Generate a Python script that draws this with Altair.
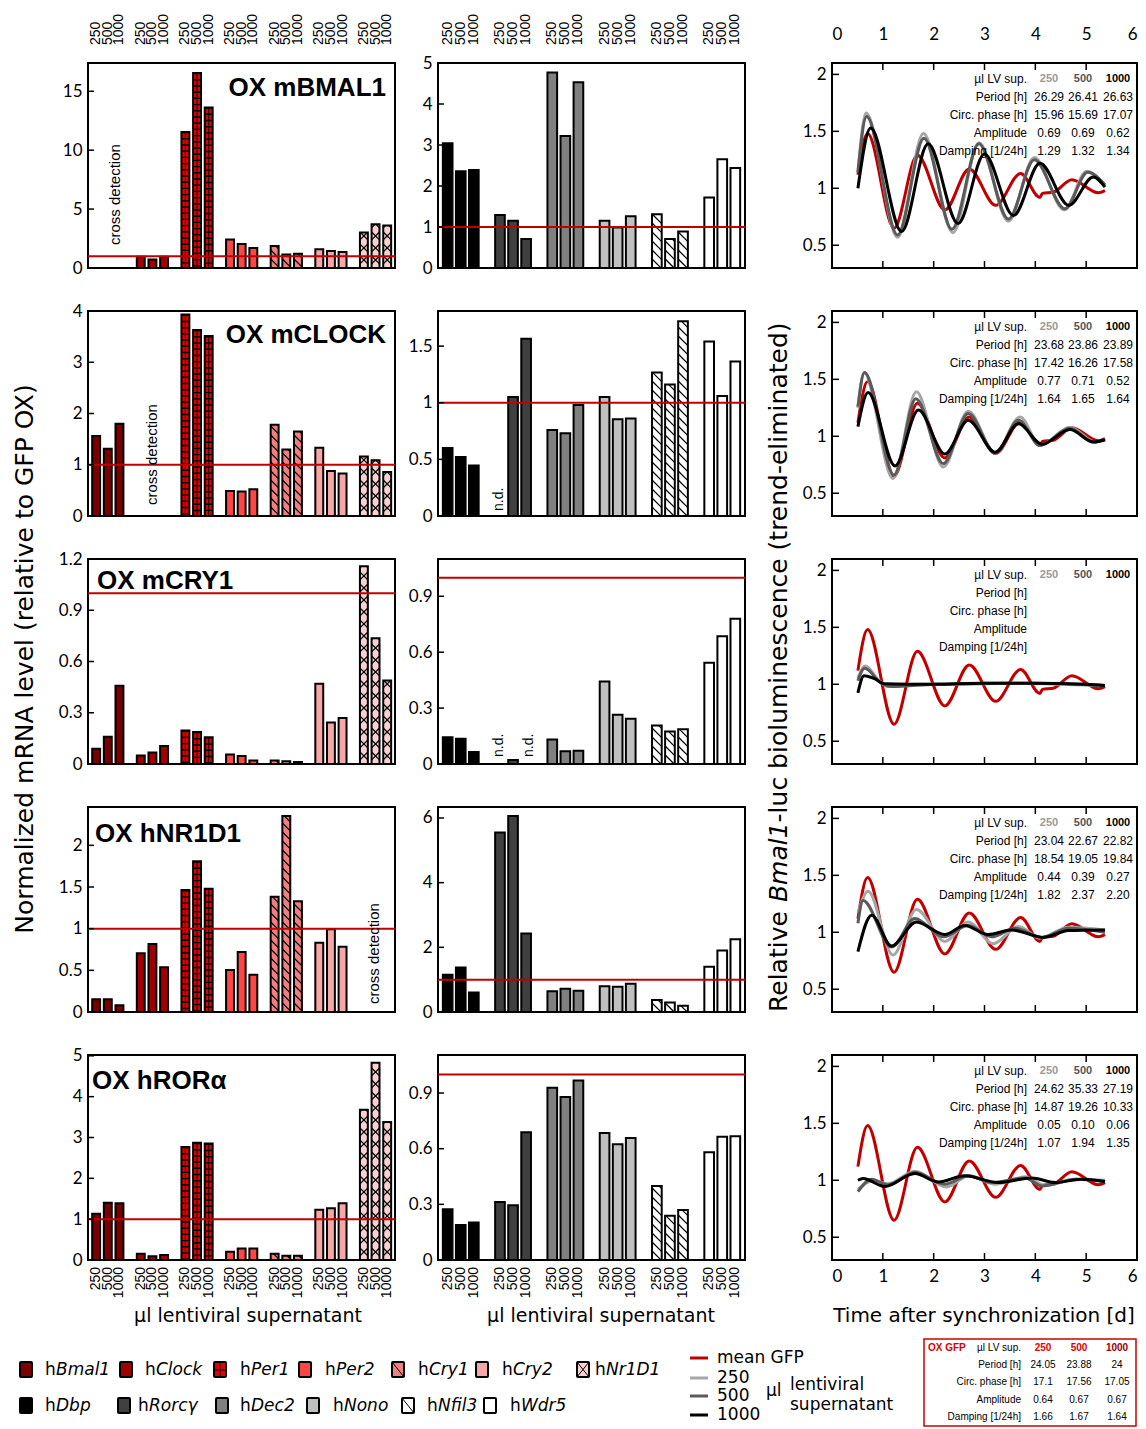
import altair as alt
import pandas as pd

# ---------------- data ----------------
DOSES = ["250", "500", "1000"]
GENES_L = ["hBmal1", "hClock", "hPer1", "hPer2", "hCry1", "hCry2", "hNr1d1"]
GENES_M = ["hDbp", "hRorc", "hDec2", "hNono", "hNfil3", "hWdr5"]
COLORS_L = ["#7a0000", "#a00000", "#e00000", "#ff4545", "#f08080", "#f6a6a6", "#f9cfcf"]
COLORS_M = ["#000000", "#404040", "#808080", "#c0c0c0", "#ffffff", "#ffffff"]
PATTERN_L = ["", "", "brick", "", "back", "", "cross"]
PATTERN_M = ["", "", "", "", "back", ""]
PANEL_TITLES = ["OX mBMAL1", "OX mCLOCK", "OX mCRY1", "OX hNR1D1", "OX hRORα"]

N = None
LEFT_VALUES = [
    [[N, N, N], [0.96, 0.73, 0.96], [11.55, 16.56, 13.63], [2.42, 2.03, 1.69], [1.86, 1.15, 1.21], [1.60, 1.44, 1.35], [3.01, 3.72, 3.60]],
    [[1.56, 1.31, 1.80], [N, N, N], [3.93, 3.63, 3.51], [0.49, 0.48, 0.52], [1.78, 1.30, 1.65], [1.33, 0.88, 0.83], [1.16, 1.09, 0.86]],
    [[0.09, 0.16, 0.458], [0.05, 0.067, 0.106], [0.196, 0.188, 0.157], [0.055, 0.047, 0.02], [0.02, 0.016, 0.012], [0.47, 0.243, 0.27], [1.158, 0.736, 0.489]],
    [[0.152, 0.152, 0.08], [0.704, 0.816, 0.536], [1.464, 1.808, 1.48], [0.504, 0.72, 0.448], [1.384, 2.352, 1.328], [0.832, 0.992, 0.784], [N, N, N]],
    [[1.13, 1.40, 1.39], [0.15, 0.09, 0.12], [2.77, 2.87, 2.85], [0.20, 0.28, 0.28], [0.15, 0.105, 0.105], [1.23, 1.27, 1.39], [3.68, 4.83, 3.38]],
]
MID_VALUES = [
    [[3.04, 2.36, 2.39], [1.29, 1.15, 0.71], [4.77, 3.22, 4.53], [1.15, 0.99, 1.26], [1.31, 0.71, 0.89], [1.72, 2.65, 2.44]],
    [[0.60, 0.52, 0.445], [N, 1.05, 1.565], [0.76, 0.73, 0.98], [1.05, 0.855, 0.86], [1.266, 1.16, 1.72], [1.54, 1.06, 1.365]],
    [[0.143, 0.136, 0.064], [N, 0.021, N], [0.132, 0.068, 0.071], [0.443, 0.264, 0.243], [0.207, 0.175, 0.186], [0.543, 0.686, 0.779]],
    [[1.155, 1.38, 0.60], [5.55, 6.06, 2.43], [0.64, 0.72, 0.66], [0.80, 0.78, 0.87], [0.37, 0.29, 0.19], [1.40, 1.90, 2.25]],
    [[0.274, 0.188, 0.202], [0.313, 0.295, 0.689], [0.928, 0.878, 0.968], [0.685, 0.624, 0.657], [0.399, 0.238, 0.27], [0.581, 0.664, 0.667]],
]
LEFT_YMAX = [17.4, 4.0, 1.2, 2.46, 5.02]
MID_YMAX = [5.0, 1.81, 1.1, 6.34, 1.105]
LEFT_TICKS = [[0, 5, 10, 15], [0, 1, 2, 3, 4], [0, 0.3, 0.6, 0.9, 1.2], [0, 0.5, 1, 1.5, 2], [0, 1, 2, 3, 4, 5]]
MID_TICKS = [[0, 1, 2, 3, 4, 5], [0, 0.5, 1, 1.5], [0, 0.3, 0.6, 0.9], [0, 2, 4, 6], [0, 0.3, 0.6, 0.9]]

# bioluminescence traces (day, relative signal), read at extrema
GFP = [(0.51, 1.12), (0.70, 1.48), (1.22, 0.65), (1.68, 1.29), (2.22, 0.81), (2.70, 1.17), (3.22, 0.85),
       (3.71, 1.13), (4.09, 0.92), (4.14, 0.955), (4.35, 0.965), (4.72, 1.075), (5.24, 0.96), (5.37, 0.98)]
P1_250 = [(0.51, 1.14), (0.67, 1.66), (1.29, 0.57), (1.80, 1.48), (2.38, 0.61), (2.89, 1.40), (3.47, 0.71),
          (3.98, 1.27), (4.57, 0.81), (5.01, 1.15), (5.37, 1.02)]
P1_500 = [(0.51, 1.14), (0.68, 1.63), (1.29, 0.59), (1.81, 1.44), (2.36, 0.64), (2.89, 1.39), (3.47, 0.73),
          (3.98, 1.25), (4.58, 0.82), (5.03, 1.14), (5.37, 1.03)]
P1_1000 = [(0.51, 1.00), (0.76, 1.53), (1.37, 0.62), (1.89, 1.39), (2.48, 0.69), (3.00, 1.30), (3.57, 0.76),
           (4.09, 1.22), (4.66, 0.85), (5.14, 1.10), (5.37, 1.01)]
P2_250 = [(0.51, 1.25), (0.63, 1.56), (1.20, 0.63), (1.66, 1.39), (2.19, 0.73), (2.68, 1.22), (3.21, 0.85),
          (3.70, 1.17), (4.09, 0.92), (4.68, 1.08), (5.18, 0.95), (5.37, 0.97)]
P2_500 = [(0.51, 1.26), (0.64, 1.56), (1.22, 0.66), (1.65, 1.33), (2.19, 0.76), (2.68, 1.20), (3.21, 0.85),
          (3.67, 1.14), (4.09, 0.92), (4.68, 1.07), (5.14, 0.95), (5.37, 0.97)]
P2_1000 = [(0.51, 1.085), (0.71, 1.385), (1.24, 0.74), (1.70, 1.23), (2.22, 0.845), (2.68, 1.14), (3.21, 0.86),
           (3.67, 1.11), (4.13, 0.93), (4.68, 1.06), (5.14, 0.95), (5.37, 0.97)]
P3_250 = [(0.51, 1.055), (0.66, 1.16), (0.91, 1.04), (1.10, 0.98), (1.60, 1.00), (2.50, 1.00), (3.50, 1.01),
          (4.50, 1.00), (5.37, 0.99)]
P3_500 = [(0.51, 1.03), (0.64, 1.14), (0.97, 1.01), (1.17, 0.98), (2.00, 1.00), (3.00, 1.01), (4.00, 1.01),
          (5.37, 0.99)]
P3_1000 = [(0.51, 0.925), (0.63, 1.075), (0.81, 1.055), (1.04, 1.005), (2.00, 1.00), (3.00, 1.01), (4.00, 1.01),
           (5.00, 1.00), (5.37, 0.99)]
P4_250 = [(0.51, 1.17), (0.71, 1.36), (1.20, 0.80), (1.66, 1.20), (2.22, 0.92), (2.68, 1.09), (3.17, 0.90),
          (3.67, 1.05), (4.09, 0.95), (4.65, 1.045), (5.37, 1.02)]
P4_500 = [(0.51, 1.08), (0.61, 1.28), (1.17, 0.87), (1.63, 1.12), (2.19, 0.96), (2.68, 1.06), (3.14, 0.96),
          (3.60, 1.035), (4.13, 0.955), (4.65, 1.035), (5.37, 1.00)]
P4_1000 = [(0.51, 0.83), (0.78, 1.15), (1.17, 0.88), (1.66, 1.09), (2.22, 0.98), (2.61, 1.06), (3.07, 0.98),
           (3.53, 1.02), (4.16, 0.955), (4.65, 1.015), (5.37, 1.02)]
P5_250 = [(0.51, 0.92), (0.80, 0.995), (1.10, 0.97), (1.63, 1.08), (2.25, 0.94), (2.70, 1.04), (3.21, 0.965),
          (3.80, 1.03), (4.19, 0.955), (4.80, 1.01), (5.37, 1.00)]
P5_500 = [(0.51, 0.90), (0.78, 1.01), (1.10, 0.96), (1.63, 1.07), (2.22, 0.965), (2.68, 1.04), (3.14, 0.98),
          (3.80, 1.02), (4.13, 0.95), (4.80, 1.01), (5.37, 0.99)]
P5_1000 = [(0.51, 1.00), (0.61, 1.015), (1.04, 0.945), (1.63, 1.06), (2.09, 0.985), (2.61, 1.04), (3.27, 0.98),
           (3.93, 1.02), (4.39, 0.98), (4.90, 1.01), (5.37, 0.99)]
PANEL_SERIES = [[P1_250, P1_500, P1_1000], [P2_250, P2_500, P2_1000], [P3_250, P3_500, P3_1000],
                [P4_250, P4_500, P4_1000], [P5_250, P5_500, P5_1000]]
SERIES_COLORS = ["#a6a6a6", "#5a5a5a", "#000000"]
GFP_COLOR = "#c00000"

STAT_LABELS = ["µl LV sup.", "Period [h]", "Circ. phase [h]", "Amplitude", "Damping [1/24h]"]
STATS = [
    [["26.29", "26.41", "26.63"], ["15.96", "15.69", "17.07"], ["0.69", "0.69", "0.62"], ["1.29", "1.32", "1.34"]],
    [["23.68", "23.86", "23.89"], ["17.42", "16.26", "17.58"], ["0.77", "0.71", "0.52"], ["1.64", "1.65", "1.64"]],
    [],
    [["23.04", "22.67", "22.82"], ["18.54", "19.05", "19.84"], ["0.44", "0.39", "0.27"], ["1.82", "2.37", "2.20"]],
    [["24.62", "35.33", "27.19"], ["14.87", "19.26", "10.33"], ["0.05", "0.10", "0.06"], ["1.07", "1.94", "1.35"]],
]
GFP_STATS = [["24.05", "23.88", "24"], ["17.1", "17.56", "17.05"], ["0.64", "0.67", "0.67"], ["1.66", "1.67", "1.64"]]

LEG_ROW1 = ["Bmal1", "Clock", "Per1", "Per2", "Cry1", "Cry2", "Nr1D1"]
LEG_ROW2 = ["Dbp", "Rorcγ", "Dec2", "Nono", "Nfil3", "Wdr5"]

# ---------------- layout / style ----------------
H = 205
W_BAR = 307
W_LINE = 305
TICK_FONT = "Lato"
TITLE_FONT = "DejaVu Sans"
TABLE_FONT = "Liberation Sans"
PANEL_FONT = "Liberation Sans"
ONE = pd.DataFrame({"one": [1.0]})


def make_helpers(xdom, ydom, W, xaxis, yaxis):
    xs = alt.Scale(domain=xdom, nice=False, zero=False)
    ys = alt.Scale(domain=ydom, nice=False, zero=False)

    def X(f):
        return alt.X(f"{f}:Q", scale=xs, axis=xaxis)

    def Y(f):
        return alt.Y(f"{f}:Q", scale=ys, axis=yaxis)

    def conv(px, py):
        return (xdom[0] + px * (xdom[1] - xdom[0]) / W, ydom[1] - py * (ydom[1] - ydom[0]) / H)

    def text(rows, **kw):
        df = pd.DataFrame(rows, columns=["px", "py", "txt", "col"])
        df["xd"], df["yd"] = conv(df["px"], df["py"])
        return alt.Chart(df).mark_text(**kw).encode(
            x=X("xd"), y=Y("yd"), text="txt:N", color=alt.Color("col:N", scale=None))

    def rects(rows, **kw):
        df = pd.DataFrame(rows, columns=["px0", "py0", "px1", "py1", "col"])
        df["xa"], df["ya"] = conv(df["px0"], df["py0"])
        df["xb"], df["yb"] = conv(df["px1"], df["py1"])
        return alt.Chart(df).mark_rect(**kw).encode(
            x=X("xa"), x2=alt.X2("xb"), y=Y("ya"), y2=alt.Y2("yb"), color=alt.Color("col:N", scale=None))

    def segs(rows, **kw):
        df = pd.DataFrame(rows, columns=["px0", "py0", "px1", "py1", "col"])
        df["xa"], df["ya"] = conv(df["px0"], df["py0"])
        df["xb"], df["yb"] = conv(df["px1"], df["py1"])
        return alt.Chart(df).mark_rule(**kw).encode(
            x=X("xa"), x2=alt.X2("xb"), y=Y("ya"), y2=alt.Y2("yb"), color=alt.Color("col:N", scale=None))

    return X, Y, conv, text, rects, segs


def yaxis_for(ticks):
    return alt.Axis(values=ticks, labelExpr="toString(datum.value)", ticks=False, domain=False, grid=False,
                    labelPadding=6, title=None, labelFont=TICK_FONT, labelFontSize=17, labelColor="black")


def hatch_layer(df, X, Y, kx, ky, hw, step, forward):
    wpx = 2 * hw / kx
    if forward:
        xa = f"datum.xp + {hw} - datum.t0*{2 * hw}"
        xb = f"datum.xp + {hw} - datum.t1*{2 * hw}"
    else:
        xa = f"datum.xp - {hw} + datum.t0*{2 * hw}"
        xb = f"datum.xp - {hw} + datum.t1*{2 * hw}"
    return (alt.Chart(df)
            .transform_calculate(k=f"sequence(0, ceil((datum.v/{ky} + {wpx})/{step}) + 1)")
            .transform_flatten(["k"])
            .transform_calculate(a=f"datum.k*{step}", h=f"datum.v/{ky}")
            .transform_calculate(t0=f"max(0, (datum.a - datum.h)/{wpx})", t1=f"min(1, datum.a/{wpx})")
            .transform_filter("datum.t1 > datum.t0 + 0.02")
            .transform_calculate(xa=xa, xb=xb,
                                 ya=f"(datum.a - datum.t0*{wpx})*{ky}", yb=f"(datum.a - datum.t1*{wpx})*{ky}")
            .mark_rule(color="black", strokeWidth=1.2)
            .encode(x=X("xa"), x2=alt.X2("xb"), y=Y("ya"), y2=alt.Y2("yb")))


def bar_panel(r, col):
    if col == "L":
        genes, colors, pats, vals = GENES_L, COLORS_L, PATTERN_L, LEFT_VALUES[r]
        stride, xdom, hw = 3.83, [-0.70, 25.65], 0.34
        ymax, ticks = LEFT_YMAX[r], LEFT_TICKS[r]
    else:
        genes, colors, pats, vals = GENES_M, COLORS_M, PATTERN_M, MID_VALUES[r]
        stride, xdom, hw = 4.0, [-0.74, 22.74], 0.37
        ymax, ticks = MID_YMAX[r], MID_TICKS[r]
    W = W_BAR
    ydom = [0, ymax]
    X, Y, conv, text, rects, segs = make_helpers(xdom, ydom, W, None, yaxis_for(ticks))
    kx = (xdom[1] - xdom[0]) / W
    ky = ymax / H
    rows, lab = [], []
    for gi, g in enumerate(genes):
        for di, d in enumerate(DOSES):
            xp = gi * stride + di
            lab.append(dict(xp=xp, dose=d))
            v = vals[gi][di]
            if v is None:
                continue
            rows.append(dict(gene=g, fc=colors[gi], dose=d, xp=xp, v=v, z=0.0, pat=pats[gi]))
    df = pd.DataFrame(rows)
    df["x0"] = df["xp"] - hw
    df["x1"] = df["xp"] + hw
    labdf = pd.DataFrame(lab)

    layers = [
        alt.Chart(df).mark_rect(stroke="black", strokeWidth=2).encode(
            x=X("x0"), x2=alt.X2("x1"), y=Y("v"), y2=alt.Y2("z"),
            fill=alt.Fill("fc:N", scale=None))
    ]
    bw = 2 * hw / kx
    brick = df[df["pat"] == "brick"]
    if len(brick):
        layers.append(alt.Chart(brick).mark_rule(color="black", strokeWidth=bw - 2, strokeDash=[1.4, 4.8]).encode(
            x=X("xp"), y=Y("v"), y2=alt.Y2("z")))
        layers.append(alt.Chart(brick).mark_rule(color="black", strokeWidth=1).encode(
            x=X("xp"), y=Y("v"), y2=alt.Y2("z")))
    back = df[df["pat"] == "back"]
    if len(back):
        layers.append(hatch_layer(back, X, Y, kx, ky, hw, 9, False))
    cross = df[df["pat"] == "cross"]
    if len(cross):
        layers.append(hatch_layer(cross, X, Y, kx, ky, hw, 12, False))
        layers.append(hatch_layer(cross, X, Y, kx, ky, hw, 12, True))
    layers.append(alt.Chart(ONE).mark_rule(color="#c00000", strokeWidth=2).encode(y=Y("one")))
    tdf = pd.DataFrame({"t": [t for t in ticks if 0 < t < ymax]})
    layers.append(alt.Chart(tdf).mark_rule(color="black", strokeWidth=1.5).encode(
        y=Y("t"), x=alt.value(0), x2=alt.value(6)))
    if r == 0:
        layers.append(alt.Chart(labdf).mark_text(angle=270, align="left", baseline="middle", font=TABLE_FONT,
                                                 fontSize=14).encode(x=X("xp"), y=alt.value(-18), text="dose:N"))
    if r == 4:
        layers.append(alt.Chart(labdf).mark_text(angle=270, align="right", baseline="middle", font=TABLE_FONT,
                                                 fontSize=14).encode(x=X("xp"), y=alt.value(H + 7), text="dose:N"))
        layers.append(text([(160 if col == "L" else 163, 261, "µl lentiviral supernatant", "black")],
                           font=TITLE_FONT, fontSize=19, align="center", baseline="middle"))
    if col == "L":
        tpos = [(298, 25, "right"), (298, 24, "right"), (9, 22, "left"), (7, 27, "left"), (4, 26, "left")][r]
        layers.append(text([(tpos[0], tpos[1], PANEL_TITLES[r], "black")], font=PANEL_FONT, fontSize=26,
                           fontWeight="bold", align=tpos[2], baseline="middle"))
        cd = {0: (27, 182), 1: (64, 194), 3: (286, 197)}
        if r in cd:
            layers.append(text([(cd[r][0], cd[r][1], "cross detection", "black")], font=TABLE_FONT, fontSize=15,
                               angle=270, align="left", baseline="middle"))
        if r == 2:
            layers.append(text([(-63, 100, "Normalized mRNA level (relative to GFP OX)", "black")],
                               font=TITLE_FONT, fontSize=25, angle=270, align="center", baseline="middle"))
        if r == 0:
            layers.append(alt.Chart(ONE).mark_point(opacity=0, size=1).encode(
                x=alt.value(-86.5), y=alt.value(-61.5)))
        if r == 4:
            layers += legend_layers(text, rects, segs)
    else:
        nd = {1: [(61, 200)], 2: [(61, 198), (91, 198)]}
        if r in nd:
            layers.append(text([(p[0], p[1], "n.d.", "black") for p in nd[r]], font=TABLE_FONT, fontSize=14,
                               angle=270, align="left", baseline="middle"))
    return alt.layer(*layers).properties(width=W, height=H)


def legend_layers(text, rects, segs):
    ox, oy = 88, 1057  # origin of this panel in page pixels
    L = []
    sw_rows, hn_rows, it_rows, pat_rows = [], [], [], []
    row1_sw = [26, 126, 220, 305, 398, 482, 583]
    row1_tx = [45, 145, 240, 325, 418, 502, 595]
    row2_sw = [26, 124, 222, 313, 408, 490]
    row2_tx = [45, 138, 240, 333, 427, 510]
    for names, cols, pats, sws, txs, y in [(LEG_ROW1, COLORS_L, PATTERN_L, row1_sw, row1_tx, 1372),
                                           (LEG_ROW2, COLORS_M, PATTERN_M, row2_sw, row2_tx, 1408)]:
        for nm, c, p, sx, tx in zip(names, cols, pats, sws, txs):
            x0, y0, x1, y1 = sx - 6 - ox, y - 8 - oy, sx + 6 - ox, y + 7 - oy
            sw_rows.append((x0, y0, x1, y1, c))
            if p == "brick":
                pat_rows.append((sx - ox, y0, sx - ox, y1, "black"))
                pat_rows.append((x0, y - oy, x1, y - oy, "black"))
            if p in ("back", "cross"):
                pat_rows.append((x0, y0, x1, y1, "black"))
            if p == "cross":
                pat_rows.append((x1, y0, x0, y1, "black"))
            hn_rows.append((tx - ox, y - oy, "h", "black"))
            it_rows.append((tx - ox + 11, y - oy, nm, "black"))
    L.append(rects(sw_rows, stroke="black", strokeWidth=2, cornerRadius=1))
    L.append(segs(pat_rows, strokeWidth=1))
    L.append(text(hn_rows, font=TITLE_FONT, fontSize=17, align="left", baseline="middle"))
    L.append(text(it_rows, font=TITLE_FONT, fontSize=17, fontStyle="italic", align="left", baseline="middle"))
    # line legend
    lr = [(690 - ox, y - oy, 708 - ox, y - oy, c) for y, c in
          zip([1360, 1380, 1398, 1417], [GFP_COLOR] + SERIES_COLORS)]
    L.append(segs(lr, strokeWidth=3))
    lt = [(717 - ox, y - oy, t, "black") for y, t in
          zip([1360, 1380, 1398, 1417], ["mean GFP", "250", "500", "1000"])]
    L.append(text(lt, font=TITLE_FONT, fontSize=17, align="left", baseline="middle"))
    L.append(text([(790 - ox, 1387 - oy, "lentiviral", "black"), (790 - ox, 1407 - oy, "supernatant", "black")],
                  font=TITLE_FONT, fontSize=17, align="left", baseline="middle"))
    L.append(text([(766 - ox, 1393 - oy, "µl", "black")], font=TITLE_FONT, fontSize=17, align="left",
                  baseline="middle"))
    # GFP stats box
    L.append(rects([(924 - ox, 1341 - oy, 1136 - ox, 1428 - oy, "#ffffff")], stroke="#cc0000", strokeWidth=1.5,
                   fillOpacity=0))
    ry = [1350, 1367, 1384, 1402, 1419]
    L.append(text([(1021 - ox, ry[i] - oy, STAT_LABELS[i], "black") for i in range(5)], font=TABLE_FONT,
                  fontSize=10, align="right", baseline="middle"))
    L.append(text([(928 - ox, ry[0] - oy, "OX GFP", "#dd0000")], font=TABLE_FONT, fontSize=10,
                  fontWeight="bold", align="left", baseline="middle"))
    vx = [1043, 1079, 1117]
    L.append(text([(vx[j] - ox, ry[0] - oy, DOSES[j], ["#ee0000", "#dd0000", "#990000"][j]) for j in range(3)],
                  font=TABLE_FONT, fontSize=10, fontWeight="bold", align="center", baseline="middle"))
    L.append(text([(vx[j] - ox, ry[i + 1] - oy, GFP_STATS[i][j], "black") for i in range(4) for j in range(3)],
                  font=TABLE_FONT, fontSize=10, align="center", baseline="middle"))
    return L


def line_panel(r):
    xdom, ydom, W = [0, 6], [0.3, 2.1], W_LINE
    if r == 0:
        xaxis = alt.Axis(values=list(range(7)), orient="top", ticks=False, domain=False, grid=False,
                         labelPadding=20, title=None, labelFont=TICK_FONT, labelFontSize=17, labelColor="black")
    elif r == 4:
        xaxis = alt.Axis(values=list(range(7)), orient="bottom", ticks=False, domain=False, grid=False,
                         labelPadding=8, title=None, labelFont=TICK_FONT, labelFontSize=17, labelColor="black")
    else:
        xaxis = None
    X, Y, conv, text, rects, segs = make_helpers(xdom, ydom, W, xaxis, yaxis_for([0.5, 1, 1.5, 2]))
    layers = []
    for pts, c in [(GFP, GFP_COLOR)] + list(zip(PANEL_SERIES[r], SERIES_COLORS)):
        d = pd.DataFrame(pts, columns=["t", "v"])
        layers.append(alt.Chart(d).mark_line(color=c, strokeWidth=3, interpolate="monotone").encode(
            x=X("t"), y=Y("v")))
    xt = pd.DataFrame({"t": [1, 2, 3, 4, 5]})
    layers.append(alt.Chart(xt).mark_rule(color="black", strokeWidth=1.5).encode(
        x=X("t"), y=alt.value(H), y2=alt.value(H - 7)))
    layers.append(alt.Chart(xt).mark_rule(color="black", strokeWidth=1.5).encode(
        x=X("t"), y=alt.value(0), y2=alt.value(7)))
    yt = pd.DataFrame({"v": [0.5, 1, 1.5, 2]})
    layers.append(alt.Chart(yt).mark_rule(color="black", strokeWidth=1.5).encode(
        y=Y("v"), x=alt.value(0), x2=alt.value(7)))
    ry = [16, 34, 52, 70, 88]
    vx = [217, 251, 286]
    layers.append(text([(195, ry[i], STAT_LABELS[i], "black") for i in range(5)], font=TABLE_FONT,
                       fontSize=12, align="right", baseline="middle"))
    layers.append(text([(vx[j], ry[0], DOSES[j], ["#999999", "#555555", "#000000"][j]) for j in range(3)],
                       font=TABLE_FONT, fontSize=11, fontWeight="bold", align="center", baseline="middle"))
    if STATS[r]:
        layers.append(text([(vx[j], ry[i + 1], STATS[r][i][j], "black") for i in range(4) for j in range(3)],
                           font=TABLE_FONT, fontSize=12, align="center", baseline="middle"))
    if r == 2:
        w1 = 4.396 * 25
        w2 = 3.187 * 25
        y0 = 453
        layers.append(text([(-53, y0, "Relative", "black"),
                            (-53, y0 - w1 - w2, "-luc bioluminescence (trend-eliminated)", "black")],
                           font=TITLE_FONT, fontSize=25, angle=270, align="left", baseline="middle"))
        layers.append(text([(-53, y0 - w1, "Bmal1", "black")], font=TITLE_FONT, fontSize=25, fontStyle="italic",
                           angle=270, align="left", baseline="middle"))
    if r == 4:
        layers.append(text([(152, 261, "Time after synchronization [d]", "black")], font=TITLE_FONT, fontSize=20,
                           align="center", baseline="middle"))
    return alt.layer(*layers).properties(width=W, height=H)


def spacer():
    return (alt.Chart(ONE, view=alt.ViewBackground(stroke="transparent"))
            .mark_text(text="").encode(x=alt.value(0), y=alt.value(0))
            .properties(width=1, height=H))


charts = []
for r in range(5):
    charts += [bar_panel(r, "L"), bar_panel(r, "M"), spacer(), line_panel(r)]

chart = (alt.concat(*charts, columns=4, spacing=43, bounds="flush", align="each")
         .properties(padding=0, background="white")
         .configure_view(stroke="black", strokeWidth=2))

chart.save("out.html", embed_options={"renderer": "svg", "actions": False})
